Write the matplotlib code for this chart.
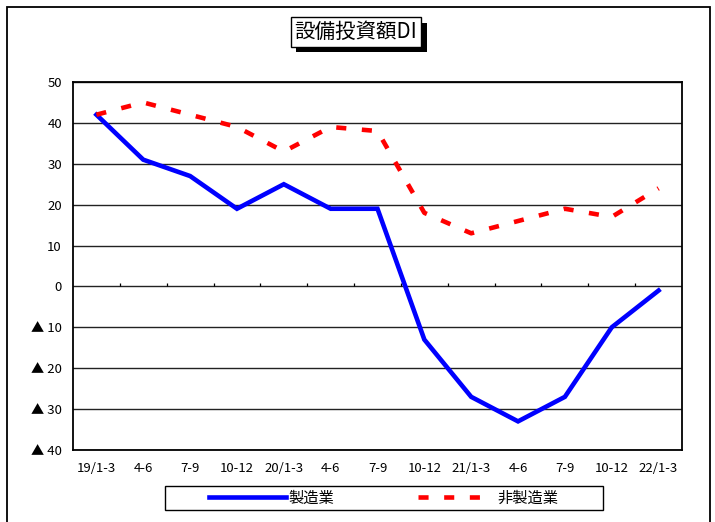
import matplotlib
matplotlib.use("Agg")
import matplotlib.pyplot as plt
import matplotlib.patheffects as pe
from matplotlib.patches import Rectangle
import numpy as np

plt.rcParams['font.family'] = ['Noto Sans CJK JP', 'DejaVu Sans']

categories = ["19/1-3", "4-6", "7-9", "10-12", "20/1-3", "4-6", "7-9",
              "10-12", "21/1-3", "4-6", "7-9", "10-12", "22/1-3"]
manufacturing = [42, 31, 27, 19, 25, 19, 19, -13, -27, -33, -27, -10, -1]
non_manufacturing = [42, 45, 42, 39, 33, 39, 38, 18, 13, 16, 19, 17, 24]
y_ticks = [50, 40, 30, 20, 10, 0, -10, -20, -30, -40]
y_labels = ["50", "40", "30", "20", "10", "0", "▲ 10", "▲ 20", "▲ 30", "▲ 40"]
title = "設備投資額DI"
series_names = ["製造業", "非製造業"]

fig = plt.figure(figsize=(7.15, 5.22), dpi=100)
fig.patch.set_facecolor("white")
fig.patches.append(Rectangle((7/715, -0.02), (710-7)/715, 1.02 - 7/522,
                             transform=fig.transFigure, fill=False,
                             edgecolor="black", linewidth=1.3))

ax = fig.add_axes([73/715, 1-450/522, (682-73)/715, (450-82)/522])
x = np.arange(len(categories))
l1, = ax.plot(x, manufacturing, color="#0000ff", linewidth=3.3,
              solid_joinstyle="miter", label=series_names[0], zorder=3)
l2, = ax.plot(x, non_manufacturing, color="#ff0000", linewidth=3.3,
              linestyle=(0, (2.2, 3.4)), dash_capstyle="butt",
              label=series_names[1], zorder=3)

ax.set_xlim(-0.5, len(categories) - 0.5)
ax.set_ylim(-40, 50)
ax.set_yticks(y_ticks)
ax.set_yticklabels(y_labels)
ax.set_xticks(x)
ax.set_xticklabels(categories)
ax.tick_params(axis="x", length=0, pad=9, labelsize=9.5)
ax.tick_params(axis="y", length=0, pad=8, labelsize=9.5)
for yv in y_ticks:
    ax.axhline(yv, color="#222222", linewidth=1.0, zorder=1)
# small ticks on the zero line at category boundaries
ax.vlines(np.arange(len(categories) - 1) + 0.5, 0, 0.9, color="black",
          linewidth=0.9, zorder=2)
for s in ax.spines.values():
    s.set_linewidth(1.3)
    s.set_color("black")

t = fig.text(356/715, 1-32/522, title, ha="center", va="center",
             fontsize=14.8,
             bbox=dict(boxstyle="square,pad=0.18", facecolor="white",
                       edgecolor="black", linewidth=1.0))
t.get_bbox_patch().set_path_effects([
    pe.SimplePatchShadow(offset=(4, -4), shadow_rgbFace="black", alpha=1.0),
    pe.Normal()])

leg = fig.legend(handles=[l1, l2], loc="center", ncol=2,
                 bbox_to_anchor=(384/715, 1-498/522),
                 fontsize=11, handlelength=5.0, columnspacing=5.5,
                 handletextpad=0.2, borderpad=0.2, frameon=False)
fig.patches.append(Rectangle((165/715, 1-510/522), 438/715, 24/522,
                             transform=fig.transFigure, fill=False,
                             edgecolor="black", linewidth=1.0))

fig.savefig("out.png", dpi=100)
